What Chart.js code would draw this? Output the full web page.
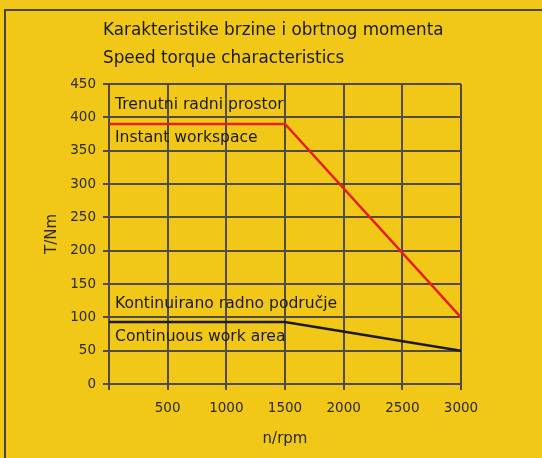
<!DOCTYPE html>
<html>
<head>
<meta charset="utf-8">
<script src="https://cdn.jsdelivr.net/npm/chart.js@4"></script>
<style>
  html, body { margin: 0; padding: 0; background: #f1c718; }
  #wrap { width: 542px; height: 458px; }
</style>
</head>
<body>
<div id="wrap"><canvas id="c" width="542" height="458"></canvas></div>
<script>
// speed (rpm) breakpoints and torque values
const speeds = [0, 1500, 3000];
const instantTorque = [390, 390, 100];
const continuousTorque = [93, 93, 50];
const titleLines = ["Karakteristike brzine i obrtnog momenta", "Speed torque characteristics"];
const instantLabels = ["Trenutni radni prostor", "Instant workspace"];
const continuousLabels = ["Kontinuirano radno područje", "Continuous work area"];

const FONT = "'DejaVu Sans', sans-serif";
const GRID = "#514b44";

const decor = {
  id: "decor",
  beforeDraw(chart) {
    const ctx = chart.ctx;
    ctx.save();
    ctx.fillStyle = "#f1c718";
    ctx.fillRect(0, 0, chart.width, chart.height);
    ctx.strokeStyle = "#4a4540";
    ctx.lineWidth = 2;
    ctx.strokeRect(5, 10, 700, 700);
    ctx.restore();
  },
  afterDatasetsDraw(chart) {
    const ctx = chart.ctx;
    const x = chart.scales.x, y = chart.scales.y;
    ctx.save();
    ctx.fillStyle = "#1a1a1a";
    ctx.textBaseline = "middle";
    ctx.font = "16.8px " + FONT;
    ctx.fillText(titleLines[0], 103, 31);
    ctx.fillText(titleLines[1], 103, 59);
    ctx.font = "15.6px " + FONT;
    const left = x.getPixelForValue(0) + 6;
    ctx.fillText(instantLabels[0], left, y.getPixelForValue(instantTorque[0]) - 19);
    ctx.fillText(instantLabels[1], left, y.getPixelForValue(instantTorque[0]) + 14);
    ctx.fillText(continuousLabels[0], left, y.getPixelForValue(continuousTorque[0]) - 18);
    ctx.fillText(continuousLabels[1], left, y.getPixelForValue(continuousTorque[0]) + 15);
    ctx.restore();
  }
};

new Chart(document.getElementById("c"), {
  type: "line",
  data: {
    labels: speeds,
    datasets: [
      {
        data: speeds.map((s, i) => ({ x: s, y: instantTorque[i] })),
        borderColor: "#e2211c",
        borderWidth: 2.5,
        pointRadius: 0,
        tension: 0
      },
      {
        data: speeds.map((s, i) => ({ x: s, y: continuousTorque[i] })),
        borderColor: "#1a1a1a",
        borderWidth: 2.5,
        pointRadius: 0,
        tension: 0
      }
    ]
  },
  options: {
    responsive: false,
    animation: false,
    layout: { padding: { left: 43, top: 84, right: 81, bottom: 8 } },
    plugins: {
      legend: { display: false },
      tooltip: { enabled: false },
      title: { display: false }
    },
    scales: {
      x: {
        type: "linear",
        min: 0,
        max: 3000,
        ticks: {
          stepSize: 500,
          color: "#2a2a2a",
          font: { family: FONT, size: 13.5 },
          padding: 10,
          maxRotation: 0,
          callback: (v) => (v === 0 ? "" : v)
        },
        grid: { color: GRID, lineWidth: 2, tickLength: 6 },
        border: { color: GRID, width: 2 },
        title: {
          display: true,
          text: "n/rpm",
          color: "#2a2a2a",
          font: { family: FONT, size: 15 },
          padding: { top: 2, bottom: 2 }
        },
        afterFit: (scale) => { scale.height = 66; }
      },
      y: {
        min: 0,
        max: 450,
        ticks: {
          stepSize: 50,
          color: "#2a2a2a",
          font: { family: FONT, size: 13.5 },
          padding: 7
        },
        grid: { color: GRID, lineWidth: 2, tickLength: 6 },
        border: { color: GRID, width: 2 },
        title: {
          display: true,
          text: "T/Nm",
          color: "#2a2a2a",
          font: { family: FONT, size: 15 },
          padding: { top: 0, bottom: 10 }
        },
        afterFit: (scale) => { scale.width = 66; }
      }
    }
  },
  plugins: [decor]
});
</script>
</body>
</html>
